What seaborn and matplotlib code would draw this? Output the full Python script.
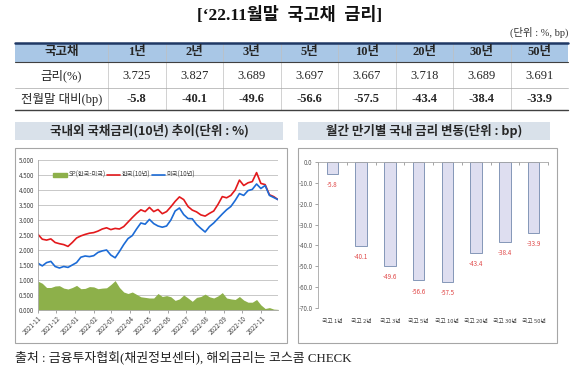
import numpy as np
import pandas as pd
import matplotlib
matplotlib.use('Agg')
import matplotlib.pyplot as plt
import matplotlib.dates as mdates
from matplotlib.ticker import FormatStrFormatter
from matplotlib.patches import Rectangle, Patch
from matplotlib.lines import Line2D
import seaborn as sns

sns.set_theme(style='white')
plt.rcParams['font.family'] = ['Noto Sans CJK KR', 'DejaVu Sans']
plt.rcParams['axes.unicode_minus'] = False
serif = ['Liberation Serif', 'Noto Sans CJK KR']

# table data
tenors = ['1년', '2년', '3년', '5년', '10년', '20년', '30년', '50년']
rates = [3.725, 3.827, 3.689, 3.697, 3.667, 3.718, 3.689, 3.691]
chg_bp = [-5.8, -40.1, -49.6, -56.6, -57.5, -43.4, -38.4, -33.9]
bar_labels = ['국고 1년', '국고 2년', '국고 3년', '국고 5년', '국고 10년', '국고 20년', '국고 30년', '국고 50년']

# 10y yields, weekly readings (2021-11-01 .. 2022-11-28)
week_dates = pd.date_range('2021-11-01', periods=57, freq='7D')
kr10 = [2.52, 2.36, 2.33, 2.37, 2.25, 2.21, 2.18, 2.12, 2.25, 2.40,
        2.47, 2.52, 2.56, 2.58, 2.63, 2.70, 2.74, 2.68, 2.72, 2.70,
        2.78, 2.93, 3.08, 3.22, 3.34, 3.28, 3.42, 3.28, 3.35, 3.21,
        3.28, 3.44, 3.62, 3.77, 3.68, 3.45, 3.33, 3.27, 3.17, 3.13,
        3.22, 3.30, 3.52, 3.78, 3.74, 3.82, 4.00, 4.33, 4.15, 4.24,
        4.28, 4.58, 4.22, 4.18, 3.84, 3.78, 3.68]
us10 = [1.56, 1.47, 1.58, 1.62, 1.45, 1.40, 1.45, 1.42, 1.50, 1.58,
        1.76, 1.80, 1.78, 1.81, 1.92, 1.97, 2.00, 1.83, 1.74, 1.95,
        2.18, 2.38, 2.48, 2.70, 2.90, 2.86, 3.02, 2.88, 2.80, 2.76,
        2.80, 3.00, 3.30, 3.40, 3.18, 3.05, 3.04, 2.85, 2.72, 2.60,
        2.78, 2.90, 3.05, 3.20, 3.34, 3.45, 3.65, 3.88, 3.82, 3.98,
        4.02, 4.20, 4.05, 4.15, 3.82, 3.75, 3.68]
spread = [0.96, 0.89, 0.75, 0.75, 0.80, 0.81, 0.73, 0.70, 0.75, 0.82,
          0.71, 0.72, 0.78, 0.77, 0.71, 0.73, 0.74, 0.85, 0.98, 0.75,
          0.60, 0.55, 0.60, 0.52, 0.44, 0.42, 0.40, 0.40, 0.55, 0.45,
          0.48, 0.44, 0.32, 0.37, 0.50, 0.40, 0.29, 0.42, 0.45, 0.53,
          0.44, 0.40, 0.47, 0.58, 0.40, 0.37, 0.35, 0.45, 0.33, 0.26,
          0.26, 0.35, 0.17, 0.05, 0.08, 0.03, 0.02]

fig = plt.figure(figsize=(5.8, 3.73), dpi=100)
bg = fig.add_axes([0, 0, 1, 1])
bg.set_xlim(0, 580)
bg.set_ylim(373, 0)
bg.axis('off')

# title
bg.text(290, 15, '[‘22.11월말  국고채  금리]', ha='center', va='center',
        fontsize=12.5, fontweight='bold', family=serif, color='#111111')
bg.text(568, 32, '(단위 : %, bp)', ha='right', va='center', fontsize=7.5,
        family=serif, color='#333333')

# table
cols = [15, 108] + [108 + 57.5 * (i + 1) for i in range(8)]
bg.add_patch(Rectangle((15, 42.5), 553, 19.5, fc='#A9C7E6', ec='none'))
for cx in cols[1:-1]:
    bg.plot([cx, cx], [42.5, 110], color='#BFBFBF', lw=0.5)
bg.plot([15, 568], [42.5, 42.5], color='#1F3864', lw=1.8)
bg.plot([15, 568], [62, 62], color='#404040', lw=0.8)
bg.plot([15, 568], [88, 88], color='#A6A6A6', lw=0.5)
bg.plot([15, 568], [110, 110], color='#404040', lw=1.0)
bg.text(61.5, 52.5, '국고채', ha='center', va='center', fontsize=9,
        fontweight='bold', family=serif)
bg.text(61.5, 76, '금리(%)', ha='center', va='center', fontsize=9, family=serif)
bg.text(61.5, 99, '전월말 대비(bp)', ha='center', va='center', fontsize=9, family=serif)
for i, t in enumerate(tenors):
    cx = (cols[i + 1] + cols[i + 2]) / 2
    bg.text(cx, 52.5, t, ha='center', va='center', fontsize=9,
            fontweight='bold', family=serif)
    bg.text(cx, 76, f'{rates[i]:.3f}', ha='center', va='center',
            fontsize=9, family=serif)
    bg.text(cx, 99, f'{chg_bp[i]:.1f}', ha='center', va='center',
            fontsize=9, fontweight='bold', family=serif)

# panel headers and boxes
bg.add_patch(Rectangle((15, 122), 268, 18, fc='#D9E1EA', ec='none'))
bg.text(149, 131, '국내외 국채금리(10년) 추이(단위 : %)', ha='center',
        va='center', fontsize=9, fontweight='bold')
bg.add_patch(Rectangle((298, 122), 252, 18, fc='#D9E1EA', ec='none'))
bg.text(424, 131, '월간 만기별 국내 금리 변동(단위 : bp)', ha='center',
        va='center', fontsize=9, fontweight='bold')
bg.add_patch(Rectangle((15, 148), 272, 195, fc='white', ec='#A6A6A6', lw=0.8))
bg.add_patch(Rectangle((298, 148), 259, 195, fc='white', ec='#A6A6A6', lw=0.8))

bg.text(15, 357, '출처 : 금융투자협회(채권정보센터), 해외금리는 코스콤 CHECK',
        ha='left', va='center', fontsize=9.3, family=serif, color='#222222')

# left chart: 10y yields
axL = fig.add_axes([38 / 580, 1 - 310 / 373, 240 / 580, 150 / 373])
axL.fill_between(week_dates, spread, 0, color='#8DB04A', lw=0)
sns.lineplot(x=week_dates, y=kr10, ax=axL, color='#E3191C', lw=1.2)
sns.lineplot(x=week_dates, y=us10, ax=axL, color='#1C6BD6', lw=1.2)
axL.set_ylim(0, 5)
axL.set_yticks(np.arange(0, 5.01, 0.5))
axL.yaxis.set_major_formatter(FormatStrFormatter('%.3f'))
axL.set_xlim(pd.Timestamp('2021-11-01'), pd.Timestamp('2022-11-28'))
axL.xaxis.set_major_locator(mdates.MonthLocator())
axL.xaxis.set_major_formatter(mdates.DateFormatter('%Y-%m'))
plt.setp(axL.get_xticklabels(), rotation=45, ha='right', rotation_mode='anchor')
axL.tick_params(axis='x', labelsize=4.5, length=2, width=0.5, color='#808080',
                pad=1.5, labelcolor='#404040', bottom=True)
axL.tick_params(axis='y', labelsize=4.5, length=0, pad=3, labelcolor='#404040')
axL.yaxis.grid(True, color='#BFBFBF', lw=0.6)
axL.set_axisbelow(True)
for s in ['top', 'right']:
    axL.spines[s].set_visible(False)
for s in ['left', 'bottom']:
    axL.spines[s].set_color('#A6A6A6')
    axL.spines[s].set_linewidth(0.6)
axL.set_xlabel('')
axL.set_ylabel('')
handles = [Patch(color='#8DB04A', label='SP(한국-미국)'),
           Line2D([], [], color='#E3191C', lw=1.2, label='한국(10년)'),
           Line2D([], [], color='#1C6BD6', lw=1.2, label='미국(10년)')]
axL.legend(handles=handles, loc='center left', bbox_to_anchor=(0.04, 0.9),
           ncol=3, frameon=False, fontsize=4.5, handlelength=2.2,
           handletextpad=0.2, columnspacing=0.2, labelcolor='#404040')

# right chart: monthly change by tenor
axR = fig.add_axes([318 / 580, 1 - 308.3 / 373, 230 / 580, 146.6 / 373])
sns.barplot(x=bar_labels, y=chg_bp, ax=axR, color='#DEDEF0', edgecolor='#8497B8',
            linewidth=0.7, width=0.4, saturation=1)
for i, v in enumerate(chg_bp):
    axR.text(i, v - 3.5, f'{v:.1f}', ha='center', va='top', color='#E04848',
             fontsize=4.5)
axR.set_ylim(-70, 0)
axR.set_yticks(np.arange(-70, 0.1, 10))
axR.yaxis.set_major_formatter(FormatStrFormatter('%.1f'))
axR.tick_params(axis='y', labelsize=4.5, length=2, width=0.5, color='#808080',
                left=True, pad=2, labelcolor='#595959')
axR.tick_params(axis='x', labelsize=4.2, length=0, pad=8, labelcolor='#404040')
axR.set_xticks(np.arange(-0.5, 8, 1), minor=True)
axR.tick_params(axis='x', which='minor', top=True, bottom=False, direction='in',
                length=2, width=0.5, color='#808080')
axR.spines['bottom'].set_visible(False)
axR.spines['right'].set_visible(False)
for s in ['left', 'top']:
    axR.spines[s].set_color('#A6A6A6')
    axR.spines[s].set_linewidth(0.6)
axR.set_xlabel('')
axR.set_ylabel('')

fig.savefig('out.png', dpi=100)
